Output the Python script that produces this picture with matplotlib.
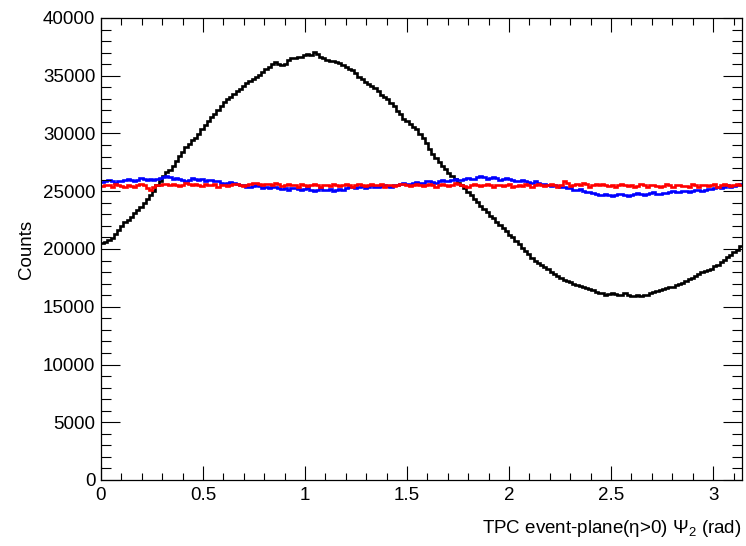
import numpy as np
import matplotlib
matplotlib.use("Agg")
import matplotlib.pyplot as plt
from matplotlib.ticker import MultipleLocator

plt.rcParams['font.family'] = ['Liberation Sans', 'DejaVu Sans']
plt.rcParams['mathtext.fontset'] = 'custom'
plt.rcParams['mathtext.rm'] = 'Liberation Sans'
plt.rcParams['mathtext.it'] = 'Liberation Sans:italic'

# event-plane angle histograms, 200 bins over [0, pi]
n_bins = 200
x_min, x_max = 0.0, np.pi

counts_black = [
    20500, 20600, 20750, 20950, 21300, 21650, 22000, 22300, 22550, 22800,
    23100, 23400, 23650, 24000, 24300, 24650, 25050, 25500, 25900, 26350,
    26650, 26850, 27200, 27600, 28050, 28400, 28850, 29100, 29450, 29650,
    29950, 30350, 30700, 31050, 31400, 31700, 32050, 32350, 32700, 32950,
    33200, 33400, 33650, 33850, 34150, 34350, 34550, 34700, 34850, 35100,
    35300, 35600, 35800, 36000, 36150, 36050, 35900, 36000, 36350, 36500,
    36550, 36650, 36600, 36800, 36900, 36800, 37050, 36850, 36650, 36550,
    36400, 36300, 36250, 36150, 36100, 35950, 35800, 35600, 35500, 35250,
    34900, 34700, 34450, 34250, 34100, 33900, 33650, 33350, 33150, 32950,
    32650, 32350, 31950, 31650, 31250, 31050, 30850, 30550, 30350, 29950,
    29650, 29200, 28650, 28200, 27850, 27550, 27200, 26900, 26600, 26300,
    26050, 25750, 25550, 25250, 24950, 24650, 24350, 24050, 23750, 23450,
    23200, 22900, 22650, 22350, 22100, 21800, 21550, 21250, 21000, 20700,
    20400, 20100, 19850, 19550, 19250, 18950, 18800, 18600, 18450, 18250,
    18000, 17800, 17650, 17450, 17300, 17200, 17100, 17000, 16900, 16800,
    16750, 16650, 16550, 16450, 16300, 16200, 16150, 16050, 16100, 16200,
    16100, 16000, 16050, 16150, 16050, 15950, 15900, 16000, 15950, 16050,
    16050, 16150, 16250, 16350, 16450, 16550, 16600, 16700, 16750, 16850,
    16950, 17050, 17200, 17400, 17500, 17700, 17800, 18000, 18100, 18200,
    18300, 18500, 18600, 18850, 19050, 19350, 19450, 19700, 19950, 20250,
]

counts_blue = [
    25800, 25900, 25950, 25850, 25750, 25850, 25900, 26000, 26050, 25950,
    25900, 26000, 26150, 26050, 26000, 26100, 25950, 26050, 26150, 26250,
    26350, 26200, 26050, 26150, 26100, 26000, 25900, 26000, 26150, 26050,
    25950, 26050, 25850, 25950, 26000, 25900, 25850, 25750, 25650, 25750,
    25800, 25700, 25650, 25550, 25500, 25400, 25350, 25450, 25550, 25450,
    25300, 25400, 25250, 25350, 25400, 25300, 25200, 25300, 25150, 25250,
    25300, 25200, 25100, 25200, 25250, 25150, 25050, 25150, 25250, 25150,
    25100, 25200, 25000, 25100, 25200, 25100, 25250, 25350, 25400, 25300,
    25350, 25450, 25250, 25350, 25500, 25400, 25350, 25450, 25550, 25450,
    25400, 25500, 25550, 25650, 25750, 25650, 25600, 25700, 25800, 25700,
    25750, 25850, 25900, 25800, 25750, 25850, 25950, 25850, 25900, 26000,
    26050, 25950, 26000, 26100, 26150, 26050, 26100, 26200, 26350, 26250,
    26050, 26150, 26250, 26150, 26000, 26100, 26150, 26050, 26000, 25900,
    25850, 25950, 25900, 25800, 25750, 25850, 25700, 25600, 25600, 25500,
    25450, 25550, 25450, 25350, 25350, 25250, 25250, 25150, 25100, 25200,
    25050, 24950, 24950, 24850, 24800, 24700, 24650, 24750, 24700, 24600,
    24700, 24800, 24750, 24650, 24600, 24700, 24750, 24850, 24800, 24700,
    24750, 24850, 24900, 24800, 24750, 24850, 24850, 24950, 25000, 24900,
    24950, 25050, 25000, 24900, 25050, 25150, 25100, 25000, 25100, 25200,
    25200, 25300, 25350, 25250, 25400, 25500, 25350, 25450, 25550, 25650,
]

counts_red = [
    25450, 25550, 25500, 25400, 25600, 25500, 25450, 25350, 25550, 25450,
    25400, 25500, 25600, 25500, 25250, 25150, 25400, 25500, 25550, 25650,
    25600, 25500, 25650, 25550, 25450, 25550, 25700, 25600, 25500, 25600,
    25550, 25450, 25650, 25550, 25500, 25600, 25400, 25500, 25550, 25450,
    25500, 25600, 25650, 25550, 25450, 25550, 25600, 25700, 25750, 25650,
    25550, 25650, 25600, 25500, 25700, 25600, 25450, 25550, 25650, 25550,
    25500, 25400, 25600, 25500, 25450, 25550, 25650, 25550, 25400, 25500,
    25550, 25450, 25600, 25500, 25450, 25550, 25650, 25550, 25400, 25500,
    25600, 25500, 25450, 25550, 25650, 25550, 25500, 25600, 25400, 25500,
    25550, 25450, 25500, 25600, 25650, 25550, 25450, 25550, 25600, 25500,
    25450, 25550, 25650, 25550, 25400, 25500, 25600, 25500, 25450, 25550,
    25700, 25600, 25550, 25450, 25400, 25500, 25600, 25500, 25450, 25550,
    25650, 25550, 25400, 25500, 25550, 25450, 25500, 25600, 25350, 25450,
    25550, 25450, 25650, 25550, 25400, 25500, 25600, 25500, 25450, 25550,
    25650, 25550, 25400, 25500, 25850, 25700, 25450, 25550, 25600, 25500,
    25700, 25600, 25400, 25500, 25600, 25500, 25650, 25550, 25450, 25550,
    25400, 25500, 25600, 25500, 25450, 25550, 25350, 25450, 25600, 25500,
    25400, 25500, 25550, 25450, 25350, 25450, 25600, 25500, 25400, 25500,
    25550, 25450, 25450, 25350, 25600, 25500, 25400, 25500, 25550, 25450,
    25500, 25600, 25400, 25500, 25650, 25550, 25450, 25550, 25600, 25500,
]

edges = np.linspace(x_min, x_max, n_bins + 1)

fig = plt.figure(figsize=(7.46, 5.46), dpi=100)
ax = fig.add_axes([101 / 746, 1 - 480 / 546, 641 / 746, 462 / 546])

ax.stairs(counts_black, edges, baseline=None, color='black', lw=1.9)
ax.stairs(counts_blue, edges, baseline=None, color='#0000ff', lw=1.9)
ax.stairs(counts_red, edges, baseline=None, color='#ff0000', lw=1.9)

ax.set_xlim(x_min, x_max)
ax.set_ylim(0, 40000)

ax.xaxis.set_major_locator(MultipleLocator(0.5))
ax.xaxis.set_minor_locator(MultipleLocator(0.1))
ax.yaxis.set_major_locator(MultipleLocator(5000))
ax.yaxis.set_minor_locator(MultipleLocator(1000))
ax.set_xticks([0, 0.5, 1, 1.5, 2, 2.5, 3])
ax.set_xticklabels(['0', '0.5', '1', '1.5', '2', '2.5', '3'])

ax.tick_params(axis='both', which='both', direction='in', top=True, right=True,
               width=0.8, labelsize=13.5, colors='black')
ax.tick_params(axis='x', which='major', length=10, pad=5)
ax.tick_params(axis='x', which='minor', length=5)
ax.tick_params(axis='y', which='major', length=13.8, pad=4)
ax.tick_params(axis='y', which='minor', length=6.9)
for s in ax.spines.values():
    s.set_linewidth(0.9)

ax.set_xlabel('TPC event-plane(η>0) $\\Psi_{2}$ (rad)', fontsize=13.5,
              ha='right', x=1.0, labelpad=10)
ax.set_ylabel('Counts', fontsize=13.5, labelpad=6)

fig.savefig('out.png', dpi=100)
